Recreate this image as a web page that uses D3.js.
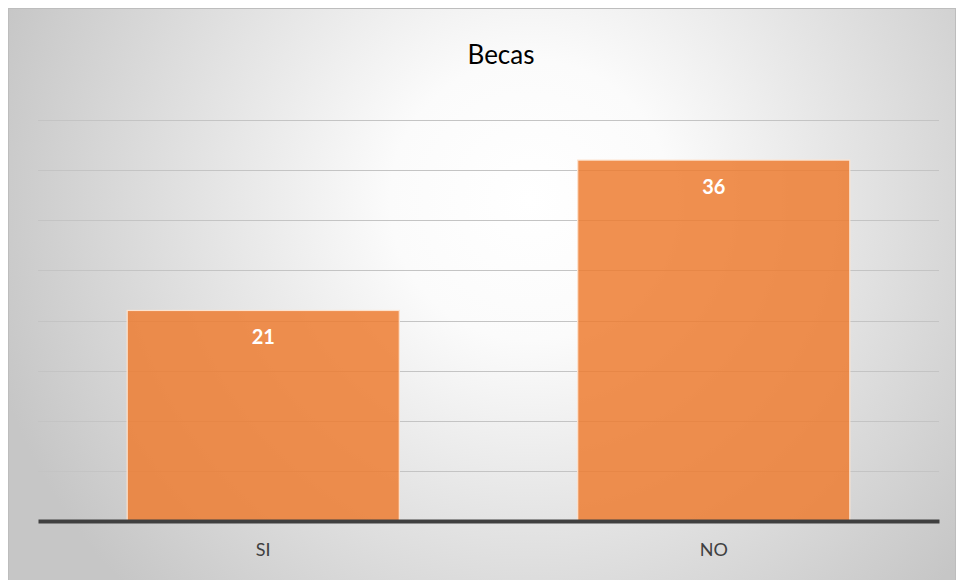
<!DOCTYPE html>
<html>
<head>
    <meta charset="utf-8">
    <title>Becas</title>
    <script src="https://cdn.jsdelivr.net/npm/d3@7"></script>
    <style>
        body{ margin:0; background:#ffffff; }
        svg{ display:block; font-family: Lato, "Open Sans", sans-serif; }
    </style>
</head>
<body>
<svg width="957" height="580"></svg>
<script>
    // datos del grafico
    var categorias = ["SI", "NO"];
    var valores = [21, 36];
    var ticks = [0, 5, 10, 15, 20, 25, 30, 35, 40];
    var titulo = "Becas";

    var svg = d3.select("svg");
    var margin = {left: 38, right: 939, top: 120, bottom: 521};

    // fondo con degradado radial
    var defs = svg.append("defs");
    var grad = defs.append("radialGradient")
        .attr("id", "fondo")
        .attr("gradientUnits", "userSpaceOnUse")
        .attr("cx", 530).attr("cy", 200).attr("r", 560);
    grad.append("stop").attr("offset", "0%").attr("stop-color", "#ffffff");
    grad.append("stop").attr("offset", "25%").attr("stop-color", "#fbfbfb");
    grad.append("stop").attr("offset", "100%").attr("stop-color", "#c6c6c6");

    svg.append("rect")
        .attr("x", 8.5).attr("y", 8.5)
        .attr("width", 947).attr("height", 580)
        .attr("fill", "url(#fondo)")
        .attr("stroke", "#bdbdbd")
        .attr("stroke-width", 1);

    var x = d3.scaleBand()
        .domain(categorias)
        .range([margin.left, margin.right])
        .paddingInner(0.396)
        .paddingOuter(0.198);

    var y = d3.scaleLinear()
        .domain([0, 40])
        .range([margin.bottom, margin.top]);

    // lineas de la cuadricula
    svg.append("g")
        .selectAll("line")
        .data(ticks.slice(1))
        .enter()
        .append("line")
        .attr("x1", margin.left)
        .attr("x2", margin.right)
        .attr("y1", function(d){ return Math.round(y(d)) + 0.5; })
        .attr("y2", function(d){ return Math.round(y(d)) + 0.5; })
        .attr("stroke", "#c4c4c4")
        .attr("stroke-width", 1.2);

    // barras
    svg.selectAll("rect.barra")
        .data(valores)
        .enter()
        .append("rect")
        .attr("class", "barra")
        .attr("x", function(d, i){ return x(categorias[i]); })
        .attr("y", function(d){ return y(d); })
        .attr("width", x.bandwidth())
        .attr("height", function(d){ return y(0) - y(d); })
        .attr("fill", "#ed7d31")
        .attr("fill-opacity", 0.85)
        .attr("stroke", "#fde3cf")
        .attr("stroke-width", 1.2);

    // etiquetas de valores
    svg.selectAll("text.valor")
        .data(valores)
        .enter()
        .append("text")
        .attr("class", "valor")
        .attr("x", function(d, i){ return x(categorias[i]) + x.bandwidth() / 2; })
        .attr("y", function(d){ return y(d) + 34; })
        .attr("text-anchor", "middle")
        .attr("fill", "#ffffff")
        .style("font-size", "20px")
        .style("font-weight", "bold")
        .text(function(d){ return d; });

    // eje x
    var xAxis = d3.axisBottom(x).tickSize(0).tickPadding(22);
    var gx = svg.append("g")
        .attr("transform", "translate(0," + margin.bottom + ")")
        .call(xAxis)
        .attr("font-family", null);
    gx.select(".domain")
        .attr("stroke", "#404040")
        .attr("stroke-width", 4);
    gx.selectAll("text")
        .attr("fill", "#404040")
        .style("font-size", "18px");

    // titulo
    svg.append("text")
        .attr("x", 501)
        .attr("y", 64)
        .attr("text-anchor", "middle")
        .attr("fill", "#000000")
        .style("font-size", "26px")
        .text(titulo);
</script>
</body>
</html>
